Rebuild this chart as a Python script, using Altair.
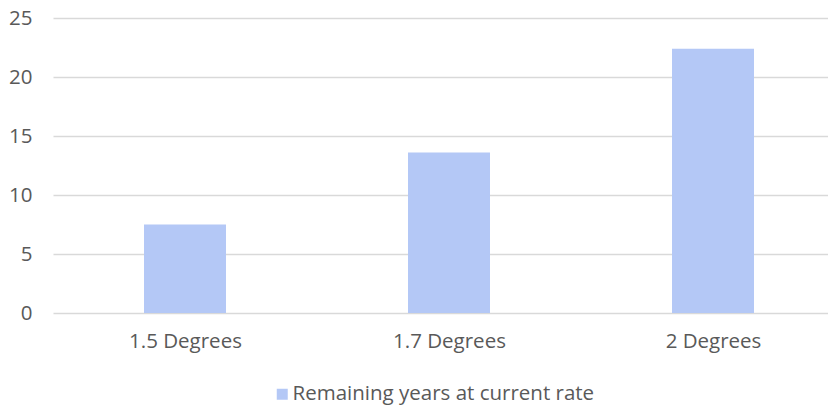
import altair as alt
import pandas as pd

categories = ["1.5 Degrees", "1.7 Degrees", "2 Degrees"]
values = [7.5, 13.6, 22.4]
series_name = "Remaining years at current rate"
y_ticks = [0, 5, 10, 15, 20, 25]

df = pd.DataFrame({"cat": categories, "val": values, "series": [series_name] * len(categories)})

BAR = "#B4C8F6"
GRID = "#D9D9D9"
TXT = "#595959"
FONT = "Open Sans"
FS = 20.5

chart = alt.Chart(df).mark_bar(size=82, color=BAR).encode(
    x=alt.X("cat:O", sort=categories, title=None,
            scale=alt.Scale(type="point", padding=0.4678, align=0.5344),
            axis=alt.Axis(labelAngle=0, ticks=False, domain=False,
                          labelFontSize=FS, labelColor=TXT, labelFont=FONT, labelPadding=18.5, grid=False)),
    y=alt.Y("val:Q", title=None, scale=alt.Scale(domain=[0, 25], nice=False),
            axis=alt.Axis(values=y_ticks, ticks=False, domain=False, gridColor=GRID, gridWidth=1.5,
                          labelFontSize=FS, labelColor=TXT, labelFont=FONT, labelPadding=21)),
    color=alt.Color("series:N", scale=alt.Scale(range=[BAR]),
                    legend=alt.Legend(title=None, orient="none", legendX=219, legendY=366,
                                      symbolType="square", symbolSize=121, symbolStrokeWidth=0,
                                      labelLimit=0,
                                      labelFontSize=FS, labelColor=TXT, labelFont=FONT, labelOffset=0)),
).properties(
    width=775, height=295, padding={"left": 0, "top": 0, "right": 0, "bottom": 0}
).configure_view(stroke=None)

chart.save("out.html", embed_options={"renderer": "svg", "actions": False})
